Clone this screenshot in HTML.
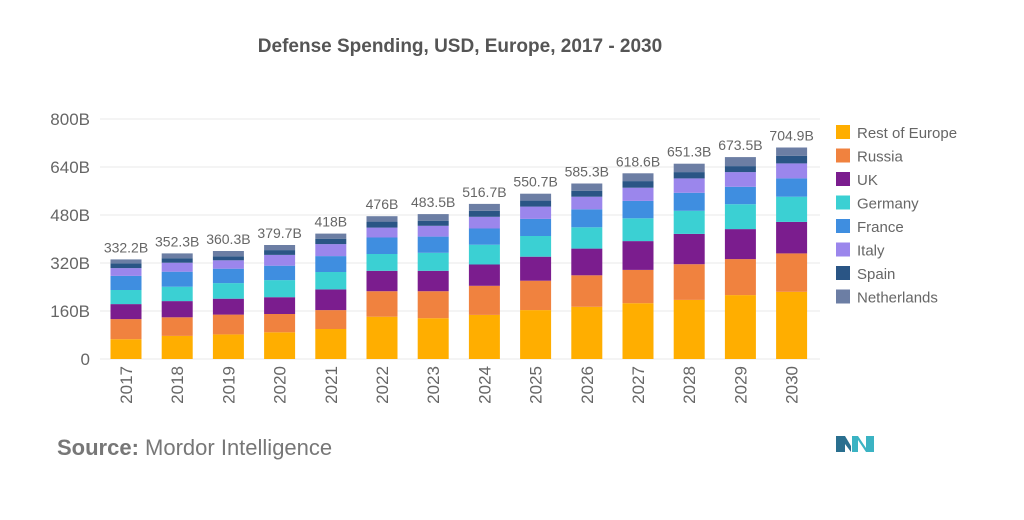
<!DOCTYPE html>
<html><head><meta charset="utf-8"><style>
body{margin:0;background:#fff;width:1024px;height:515px;overflow:hidden;font-family:"Liberation Sans",sans-serif}
</style></head><body>
<svg width="1024" height="515" id="chart">
<text x="460" y="52" text-anchor="middle" font-size="19" font-weight="bold" fill="#555">Defense Spending, USD, Europe, 2017 - 2030</text>
<text x="57" y="455" font-size="22" fill="#777"><tspan font-weight="bold">Source:</tspan> Mordor Intelligence</text>
<g>
<polygon points="836,452 836,436 845,436 851,446 851,452 845,444 845,452" fill="#2a6f8f"/>
<polygon points="852,452 852,436 858,436 866,448 866,436 874,436 874,452 866,452 858,440 858,452" fill="#3bb3c3"/>
</g>
</svg>
<script>
const years=["2017","2018","2019","2020","2021","2022","2023","2024","2025","2026","2027","2028","2029","2030"];
const totals=["332.2B","352.3B","360.3B","379.7B","418B","476B","483.5B","516.7B","550.7B","585.3B","618.6B","651.3B","673.5B","704.9B"];
const seriesNames=["Rest of Europe","Russia","UK","Germany","France","Italy","Spain","Netherlands"];
const restOfEurope=[66,77,82,89,100,141,136,147,163,174,186,197,213,224];
const russia=[67,62,66,61,63,85,90,97,98,105,111,119,120,128];
const uk=[50,54,53,56,69,68,68,71,80,89,96,101,100,105];
const germany=[47,48,52,57,58,56,60,66,69,71,76,77,83,84];
const france=[47,50,48,48,53,55,54,54,57,60,58,60,58,61];
const italy=[26,30,28,36,40,33,36,39,41,42,44,48,49,50];
const spain=[16,15,13,16,18,20,17,20,20,20,22,21,20,25];
const netherlands=[13,16,18,17,17,18,22,23,23,24,26,28,30,28];
const yTicks=[0,160,320,480,640,800];
const yTickLabels=["0","160B","320B","480B","640B","800B"];
const colors=["#FFAE00","#F0823F","#7B1D8E","#3BD0D3","#3F8EE0","#9B86EC","#2A5585","#6C7EA4"];
const series=[restOfEurope,russia,uk,germany,france,italy,spain,netherlands];
const NS="http://www.w3.org/2000/svg",svg=document.getElementById('chart');
const y=v=>359-v*0.3;
const x=i=>126+i*51.2;
function mk(t,a,p){const e=document.createElementNS(NS,t);for(const k in a)e.setAttribute(k,a[k]);(p||svg).appendChild(e);return e;}
yTicks.forEach((t,i)=>{
const g=mk('line',{x1:100,x2:820,y1:y(t),y2:y(t),stroke:'#e8e8e8'});


const l=mk('text',{x:90,y:y(t)+6,'text-anchor':'end','font-size':17,fill:'#666'});l.textContent=yTickLabels[i];


});
years.forEach((yr,i)=>{
let c=0;
series.forEach((s,k)=>{
const r=mk('rect',{x:x(i)-15.5,y:y(c+s[i]),width:31,height:s[i]*0.3,fill:colors[k]});


c+=s[i];
});
const t=mk('text',{x:x(i),y:y(c)-7,'text-anchor':'middle','font-size':14,fill:'#666'});t.textContent=totals[i];


const xl=mk('text',{transform:`translate(${x(i)+6},366) rotate(-90)`,'text-anchor':'end','font-size':17,fill:'#666'});xl.textContent=yr;


});
seriesNames.forEach((n,k)=>{
const g=mk('g',{});


mk('rect',{x:836,y:125+k*23.5,width:14,height:14,fill:colors[k]},g);
const t=mk('text',{x:857,y:138+k*23.5,'font-size':15,fill:'#666'},g);t.textContent=n;
});
</script>
</body></html>
